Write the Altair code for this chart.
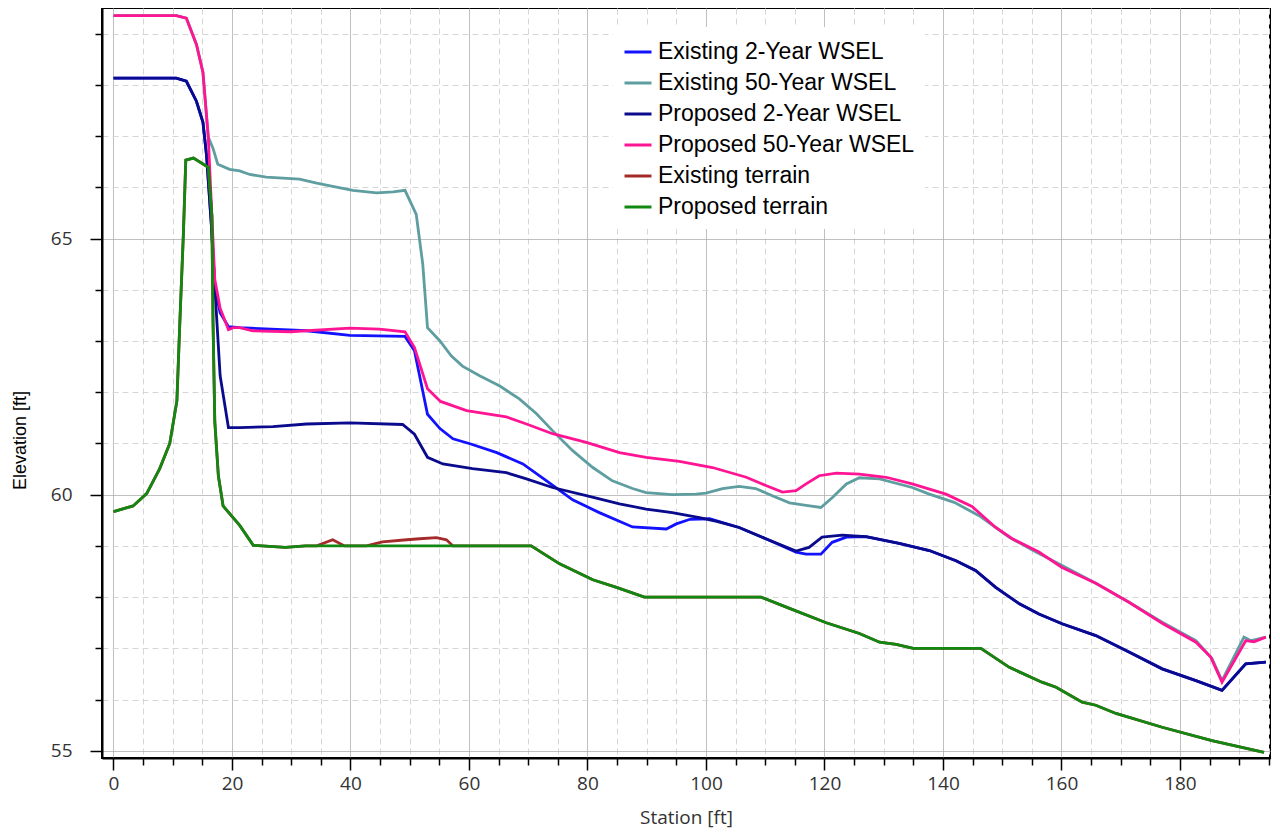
import altair as alt
import pandas as pd

# ---- data ----
series_names = ["Existing 2-Year WSEL", "Existing 50-Year WSEL", "Proposed 2-Year WSEL",
                "Proposed 50-Year WSEL", "Existing terrain", "Proposed terrain"]
series_colors = ["#1212FF", "#5F9EA0", "#0A0A8C", "#FF1493", "#A52A2A", "#118811"]

ex2_x = [0, 10.6, 12.3, 14.0, 15.1, 15.7, 16.5, 17.1, 18.0, 19.4, 21.3, 32.6, 39.9, 49.2, 50.8,
         53.0, 55.1, 57.3, 60.3, 64.7, 69.1, 73.1, 77.5, 82.0, 87.6, 93.3, 95.0, 97.3, 100.6,
         105.6, 110.1, 115.2, 116.9, 119.4, 121.3, 123.7, 127.0, 132.6, 137.7, 142.2, 145.5,
         148.9, 152.9, 156.2, 160.1, 165.8, 171.4, 177.0, 182.7, 187.1, 191.1, 194.5]
ex2_y = [68.13, 68.13, 68.07, 67.68, 67.27, 66.63, 65.3, 64.06, 63.55, 63.28, 63.26, 63.2, 63.11,
         63.09, 62.81, 61.57, 61.29, 61.09, 60.99, 60.82, 60.6, 60.27, 59.9, 59.65, 59.37, 59.33,
         59.43, 59.52, 59.53, 59.36, 59.14, 58.88, 58.84, 58.84, 59.07, 59.17, 59.18, 59.05,
         58.91, 58.71, 58.52, 58.19, 57.87, 57.67, 57.48, 57.25, 56.93, 56.6, 56.37, 56.18,
         56.7, 56.73]

ex50_x = [0, 10.6, 12.3, 14.0, 15.1, 16.0, 16.8, 17.6, 19.6, 21.3, 23.0, 25.8, 31.4, 34.3, 37.0,
          40.4, 44.4, 47.2, 49.2, 51.1, 52.2, 53.0, 55.1, 57.0, 58.9, 61.8, 65.2, 68.5, 71.4,
          74.1, 77.5, 80.9, 84.2, 87.6, 89.9, 94.3, 98.3, 100.0, 102.8, 105.6, 108.4, 111.2,
          114.1, 116.9, 119.4, 121.3, 123.7, 125.9, 129.3, 134.8, 137.7, 141.9, 146.1, 151.2,
          155.7, 160.1, 165.8, 171.4, 177.0, 182.7, 185.4, 187.1, 190.8, 192.0, 194.5]
ex50_y = [69.35, 69.35, 69.3, 68.79, 68.24, 66.98, 66.76, 66.45, 66.35, 66.32, 66.25, 66.2, 66.16,
          66.08, 66.02, 65.94, 65.89, 65.91, 65.94, 65.47, 64.5, 63.26, 63.0, 62.71, 62.51, 62.32,
          62.12, 61.87, 61.58, 61.25, 60.86, 60.53, 60.27, 60.12, 60.04, 60.0, 60.01, 60.03,
          60.12, 60.16, 60.12, 59.98, 59.84, 59.79, 59.75, 59.94, 60.21, 60.33, 60.31, 60.14,
          60.01, 59.85, 59.59, 59.17, 58.88, 58.62, 58.27, 57.9, 57.51, 57.15, 56.8, 56.37,
          57.22, 57.15, 57.22]

pr2_x = [0, 10.6, 12.3, 14.0, 15.1, 15.7, 16.5, 17.1, 18.0, 19.4, 21.3, 26.9, 32.6, 39.9, 48.8,
         50.8, 53.0, 55.6, 60.6, 66.3, 69.7, 74.1, 79.8, 85.4, 89.9, 94.3, 98.9, 101.8, 105.6,
         110.1, 115.2, 117.4, 119.6, 123.0, 127.0, 132.6, 137.7, 142.2, 145.5, 148.9, 152.9,
         156.2, 160.1, 165.8, 171.4, 177.0, 182.7, 187.1, 191.1, 194.5]
pr2_y = [68.13, 68.13, 68.07, 67.68, 67.27, 66.63, 65.3, 64.06, 62.32, 61.31, 61.31, 61.33, 61.38,
         61.4, 61.37, 61.18, 60.73, 60.6, 60.51, 60.43, 60.31, 60.14, 59.98, 59.82, 59.72, 59.65,
         59.55, 59.48, 59.36, 59.14, 58.9, 58.97, 59.17, 59.21, 59.18, 59.05, 58.91, 58.71,
         58.52, 58.19, 57.87, 57.67, 57.48, 57.25, 56.93, 56.6, 56.37, 56.18, 56.7, 56.73]

pr50_x = [0, 10.6, 12.3, 14.0, 15.1, 16.0, 16.6, 17.1, 18.0, 19.4, 20.2, 21.3, 23.5, 29.8, 39.9,
          44.9, 49.2, 50.8, 53.0, 55.2, 59.6, 66.3, 69.7, 74.1, 79.8, 85.4, 89.9, 95.5, 101.1,
          106.8, 110.1, 112.9, 115.2, 116.9, 119.1, 122.0, 125.9, 130.4, 134.8, 140.5, 144.9,
          148.9, 151.7, 156.2, 160.1, 165.8, 171.4, 177.0, 182.7, 185.2, 187.1, 191.1, 192.5,
          194.5]
pr50_y = [69.35, 69.35, 69.3, 68.79, 68.24, 66.98, 65.46, 64.2, 63.64, 63.22, 63.26, 63.26, 63.2,
          63.18, 63.25, 63.23, 63.18, 62.87, 62.07, 61.82, 61.64, 61.52, 61.38, 61.19, 61.02,
          60.82, 60.73, 60.65, 60.53, 60.34, 60.18, 60.05, 60.08, 60.21, 60.37, 60.42, 60.4,
          60.34, 60.21, 60.01, 59.77, 59.36, 59.14, 58.88, 58.58, 58.27, 57.9, 57.49, 57.12,
          56.83, 56.34, 57.15, 57.13, 57.22]

exg_x = [0, 3.3, 5.6, 7.8, 9.5, 10.7, 11.2, 11.8, 12.2, 13.5, 16.0, 16.6, 16.8, 17.1, 17.7, 18.5,
         21.3, 23.6, 29.0, 32.4, 34.3, 37.0, 39.0, 42.7, 45.4, 49.5, 51.7, 54.5, 56.2, 57.3, 70.5,
         75.3, 80.9, 84.9, 89.6, 109.3, 114.1, 120.3, 125.9, 129.3, 132.1, 135.0, 146.4, 151.2,
         156.7, 159.1, 163.5, 165.8, 169.2, 177.0, 185.4, 194.2]
exg_y = [59.67, 59.78, 60.02, 60.51, 61.0, 61.83, 63.37, 65.1, 66.53, 66.57, 66.39, 65.45, 63.37,
         61.42, 60.37, 59.78, 59.4, 59.01, 58.97, 59.0, 59.0, 59.12, 59.0, 59.0, 59.08, 59.12,
         59.14, 59.16, 59.12, 59.0, 59.0, 58.65, 58.34, 58.19, 58.0, 58.0, 57.78, 57.5, 57.29,
         57.12, 57.08, 57.0, 57.0, 56.63, 56.34, 56.24, 55.95, 55.89, 55.73, 55.46, 55.2, 54.97]

prg_x = [0, 3.3, 5.6, 7.8, 9.5, 10.7, 11.2, 11.8, 12.2, 13.5, 16.0, 16.6, 16.8, 17.1, 17.7, 18.5,
         21.3, 23.6, 29.0, 32.4, 70.5, 75.3, 80.9, 84.9, 89.6, 109.3, 114.1, 120.3, 125.9, 129.3,
         132.1, 135.0, 146.4, 151.2, 156.7, 159.1, 163.5, 165.8, 169.2, 177.0, 185.4, 194.2]
prg_y = [59.67, 59.78, 60.02, 60.51, 61.0, 61.83, 63.37, 65.1, 66.53, 66.57, 66.39, 65.45, 63.37,
         61.42, 60.37, 59.78, 59.4, 59.01, 58.97, 59.0, 59.0, 58.65, 58.34, 58.19, 58.0, 58.0,
         57.78, 57.5, 57.29, 57.12, 57.08, 57.0, 57.0, 56.63, 56.34, 56.24, 55.95, 55.89, 55.73,
         55.46, 55.2, 54.97]

x_ticks = list(range(0, 200, 5))
y_ticks = list(range(55, 70))

# ---- build table ----
series_xy = [(ex2_x, ex2_y), (ex50_x, ex50_y), (pr2_x, pr2_y), (pr50_x, pr50_y),
             (exg_x, exg_y), (prg_x, prg_y)]
rows = []
for name, (xs, ys) in zip(series_names, series_xy):
    for xv, yv in zip(xs, ys):
        rows.append({"station": xv, "elevation": yv, "series": name})
df = pd.DataFrame(rows)

tick_font = "Open Sans"

x_axis = alt.Axis(
    values=x_ticks,
    labelExpr="datum.value % 20 === 0 ? datum.label : ''",
    labelOverlap=False,
    labelFont=tick_font, labelFontSize=19, labelColor="#333333",
    labelPadding=4,
    tickColor="#000000", tickWidth=1.5,
    tickSize={"condition": {"test": "datum.value % 20 === 0", "value": 12}, "value": 7},
    grid=True,
    gridColor={"condition": {"test": "datum.value % 20 === 0", "value": "#ababab"}, "value": "#d6d6d6"},
    gridDash={"condition": {"test": "datum.value % 20 === 0", "value": [1, 0]}, "value": [6, 4]},
    gridWidth=1,
    domain=True, domainColor="#000000", domainWidth=2,
    title="Station [ft]",
    titleFont=tick_font, titleFontSize=19, titleColor="#333333", titleFontWeight="normal",
    titleY=59, titleBaseline="middle",
)
y_axis = alt.Axis(
    values=y_ticks,
    labelExpr="datum.value % 5 === 0 ? datum.label : ''",
    labelOverlap=False,
    labelFont=tick_font, labelFontSize=19, labelColor="#333333",
    labelPadding=18,
    tickColor="#000000", tickWidth=1.5,
    tickSize={"condition": {"test": "datum.value % 5 === 0", "value": 12}, "value": 7},
    grid=True,
    gridColor={"condition": {"test": "datum.value % 5 === 0", "value": "#ababab"}, "value": "#d6d6d6"},
    gridDash={"condition": {"test": "datum.value % 5 === 0", "value": [1, 0]}, "value": [6, 4]},
    gridWidth=1,
    domain=True, domainColor="#000000", domainWidth=2,
    title="Elevation [ft]",
    titleFont="Liberation Sans", titleFontSize=18, titleColor="#000000", titleFontWeight="normal",
    titleX=-82, titleY=432, titleAngle=270, titleAlign="center", titleBaseline="middle",
)

legend = alt.Legend(
    orient="none", legendX=511, legendY=19, title=None,
    symbolType="stroke", symbolStrokeWidth=3, symbolSize=729,
    labelFont="Liberation Sans", labelFontSize=23, labelColor="#000000", labelOffset=5,
    fillColor="#ffffff", padding=10, rowPadding=4, labelLimit=400,
)

base = alt.Chart(df).mark_line(strokeWidth=2.8, clip=True).encode(
    x=alt.X("station:Q", scale=alt.Scale(domain=[-1.94, 195.2], nice=False, zero=False), axis=x_axis),
    y=alt.Y("elevation:Q", scale=alt.Scale(domain=[54.86, 69.5], nice=False, zero=False), axis=y_axis),
    color=alt.Color("series:N", scale=alt.Scale(domain=series_names, range=series_colors),
                    legend=legend),
)

layers = [base.transform_filter(alt.datum.series == n) for n in series_names]

chart = alt.layer(*layers).properties(
    width=1168, height=750,
    background="white",
    autosize=alt.AutoSizeParams(type="none"),
    padding={"left": 94, "top": 0, "right": 2, "bottom": 72},
).configure_view(stroke="#000000", strokeWidth=2)

chart.save("out.html", embed_options={"renderer": "svg", "actions": False})
